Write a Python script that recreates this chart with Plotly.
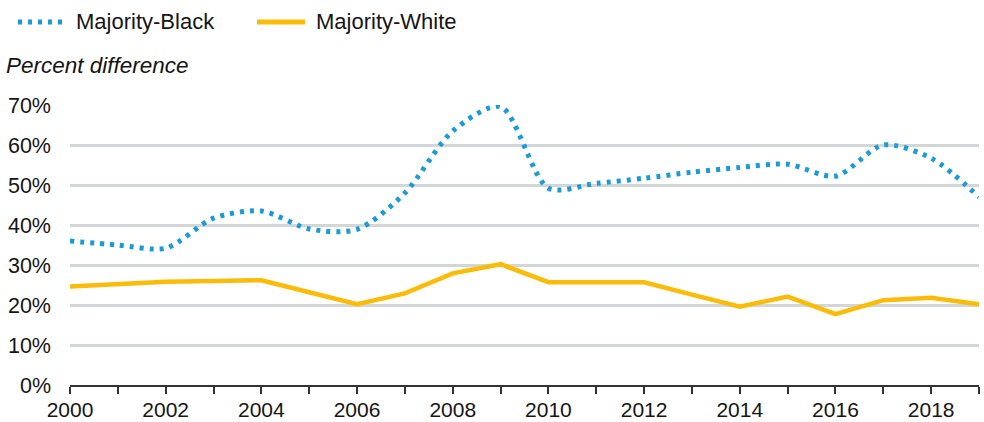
import plotly.graph_objects as go

years = list(range(2000, 2020))
majority_black = [36.0, 35.0, 34.2, 41.7, 43.5, 39.0, 38.9, 48.0, 63.5, 69.6,
                  49.2, 50.4, 51.7, 53.2, 54.4, 55.2, 52.2, 60.0, 56.7, 47.0]
majority_white = [24.6, 25.2, 25.8, 26.0, 26.2, 23.2, 20.2, 22.9, 27.9, 30.2,
                  25.7, 25.7, 25.7, 22.6, 19.6, 22.1, 17.7, 21.2, 21.8, 20.2]
y_ticks = [0, 10, 20, 30, 40, 50, 60, 70]
y_labels = [f"{v}%" for v in y_ticks]
series_names = ["Majority-Black", "Majority-White"]

BLUE = "#1a9ad6"
GOLD = "#fbbc09"
FONT = "Liberation Sans, Arial, sans-serif"
TXT = "#151515"

W, H = 984, 422
ML, MR, MT, MB = 70, 5, 105, 37
PW, PH = W - ML - MR, H - MT - MB


def px_x(x):
    return (x - ML) / PW


def px_y(y):
    return 1 - (y - MT) / PH


fig = go.Figure()
fig.add_trace(go.Scatter(
    x=years, y=majority_black, mode="lines", name=series_names[0],
    line=dict(color=BLUE, width=5, dash="4px,6px", shape="spline", smoothing=0.8),
    cliponaxis=False, showlegend=False,
))
fig.add_trace(go.Scatter(
    x=years, y=majority_white, mode="lines", name=series_names[1],
    line=dict(color=GOLD, width=4.5),
    cliponaxis=False, showlegend=False,
))

fig.update_layout(
    width=W, height=H,
    margin=dict(l=ML, r=MR, t=MT, b=MB, autoexpand=False),
    plot_bgcolor="white", paper_bgcolor="white",
    font=dict(family=FONT, size=22, color=TXT),
    showlegend=False,
    xaxis=dict(
        range=[2000, 2019], tickmode="array", tickvals=years,
        ticktext=[str(y) if y % 2 == 0 else "" for y in years],
        ticks="outside", ticklen=7, tickwidth=2, tickcolor="#333333",
        showline=True, linecolor="#333333", linewidth=2,
        showgrid=False, zeroline=False, ticklabelstandoff=-2,
        tickfont=dict(size=21, family=FONT, color=TXT),
    ),
    yaxis=dict(
        range=[0, 70], tickmode="array", tickvals=y_ticks, ticktext=y_labels,
        showgrid=True, gridcolor="#d3d6d7", gridwidth=2.5,
        zeroline=False, showline=False, ticks="", ticklabelstandoff=18,
        tickfont=dict(size=21.5, family=FONT, color=TXT),
    ),
)

# manual legend
leg_y = px_y(22)
fig.add_shape(type="line", xref="paper", yref="paper",
              x0=px_x(18), x1=px_x(68), y0=leg_y, y1=leg_y,
              line=dict(color=BLUE, width=5, dash="4px,6px"))
fig.add_annotation(text=series_names[0], xref="paper", yref="paper",
                   x=px_x(74), y=leg_y, xanchor="left", yanchor="middle",
                   showarrow=False, font=dict(size=22, family=FONT, color=TXT))
fig.add_shape(type="line", xref="paper", yref="paper",
              x0=px_x(257), x1=px_x(305), y0=leg_y, y1=leg_y,
              line=dict(color=GOLD, width=5))
fig.add_annotation(text=series_names[1], xref="paper", yref="paper",
                   x=px_x(314), y=leg_y, xanchor="left", yanchor="middle",
                   showarrow=False, font=dict(size=22, family=FONT, color=TXT))

fig.add_annotation(
    text="<i>Percent difference</i>", xref="paper", yref="paper",
    x=px_x(4), y=px_y(65), xanchor="left", yanchor="middle",
    showarrow=False, font=dict(size=22.5, family=FONT, color=TXT),
)

fig.write_html("out.html")
